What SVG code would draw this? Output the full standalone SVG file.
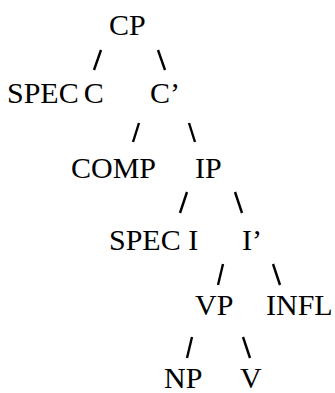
<svg xmlns="http://www.w3.org/2000/svg" width="335" height="393" viewBox="0 0 335 393">
<style>
text{font-family:"Liberation Serif","Times New Roman",serif;font-size:30px;fill:#000}
line{stroke:#000;stroke-width:2.4;stroke-linecap:butt}
</style>
<rect width="335" height="393" fill="#fff"/>
<g id="connectors">
<line x1="101" y1="50" x2="94" y2="70"/>
<line x1="158" y1="50" x2="165" y2="70"/>
<line x1="139" y1="123" x2="133" y2="142"/>
<line x1="189" y1="123" x2="195" y2="142"/>
<line x1="187" y1="192" x2="180" y2="213"/>
<line x1="235" y1="192" x2="242" y2="213"/>
<line x1="223" y1="264" x2="218" y2="285"/>
<line x1="273" y1="264" x2="280" y2="285"/>
<line x1="192" y1="337" x2="187" y2="358"/>
<line x1="243" y1="337" x2="250" y2="358"/>
</g>
<g id="CP"><text x="109" y="35">CP</text></g>
<g id="SPECC"><text x="7" y="103" word-spacing="-2.5">SPEC C</text></g>
<g id="Cbar"><text x="150" y="103">C’</text></g>
<g id="COMP"><text x="71" y="178">COMP</text></g>
<g id="IP"><text x="195" y="178">IP</text></g>
<g id="SPECI"><text x="109" y="250">SPEC I</text></g>
<g id="Ibar"><text x="242" y="250">I’</text></g>
<g id="VP"><text x="195" y="315">VP</text></g>
<g id="INFL"><text x="266" y="315">INFL</text></g>
<g id="NP"><text x="164" y="388">NP</text></g>
<g id="V"><text x="240" y="388">V</text></g>
</svg>
